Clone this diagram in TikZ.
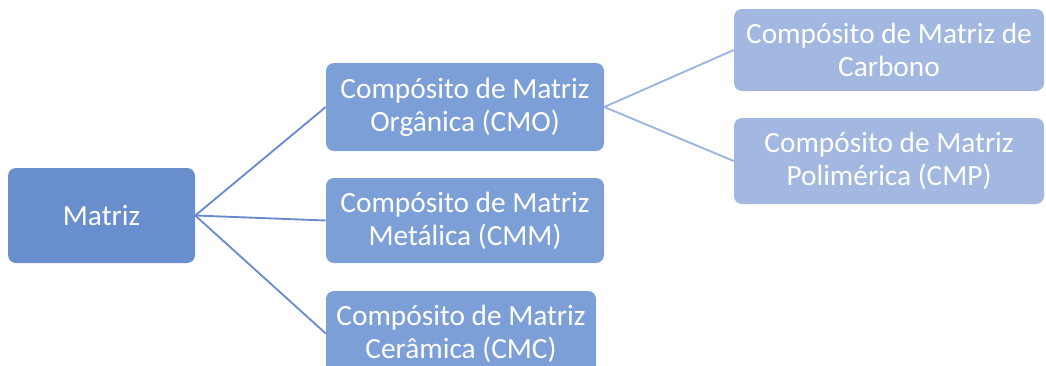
\documentclass[tikz,border=0pt]{standalone}
\usepackage{fontspec}
\setmainfont{Carlito}
\usepackage{tikz}
\usetikzlibrary{positioning,calc}
\definecolor{rootblue}{RGB}{105,142,206}
\definecolor{midblue}{RGB}{124,159,215}
\definecolor{leafblue}{RGB}{162,184,224}
\definecolor{lineA}{RGB}{106,140,206}
\definecolor{lineB}{RGB}{157,180,223}
\tikzstyle{Rootbox}=[shape=rectangle,rounded corners=6pt,fill=rootblue,text=white,align=center,font=\fontsize{22}{24.8}\selectfont]
\tikzstyle{Midbox}=[shape=rectangle,rounded corners=6pt,fill=midblue,text=white,align=center,font=\fontsize{22}{24.8}\selectfont]
\tikzstyle{Leafbox}=[shape=rectangle,rounded corners=6pt,fill=leafblue,text=white,align=center,font=\fontsize{22}{24.8}\selectfont]
\tikzstyle{rootedge}=[draw=lineA,line width=1.4pt]
\tikzstyle{leafedge}=[draw=lineB,line width=1.4pt]

\begin{document}
\begin{tikzpicture}[x=0.75pt,y=-0.75pt]
 \useasboundingbox (0,0) rectangle (1046,365);

 \node[Rootbox,minimum width=140.25pt,minimum height=71.25pt] (mat) at (101.5,215.5){Matriz};

 \node[Midbox,minimum width=208.5pt,minimum height=66pt] (cmo) at (465,107){Compósito de Matriz\\Orgânica (CMO)};
 \node[Midbox,minimum width=208.5pt,minimum height=63.75pt] (cmm) at (465,220.5){Compósito de Matriz\\Metálica (CMM)};
 \node[Midbox,minimum width=202.5pt,minimum height=63.75pt] (cmc) at (461,333.5){Compósito de Matriz\\Cerâmica (CMC)};

 \node[Leafbox,minimum width=232.5pt,minimum height=61.5pt] (car) at (889,50){Compósito de Matriz de\\Carbono};
 \node[Leafbox,minimum width=232.5pt,minimum height=64.5pt] (cmp) at (889,161){Compósito de Matriz\\Polimérica (CMP)};

\path
(mat.east) edge [rootedge] (cmo.west)
(mat.east) edge [rootedge] (cmm.west)
(mat.east) edge [rootedge] (cmc.west)

(cmo.east) edge [leafedge] (car.west)
(cmo.east) edge [leafedge] (cmp.west);

\end{tikzpicture}
\end{document}
